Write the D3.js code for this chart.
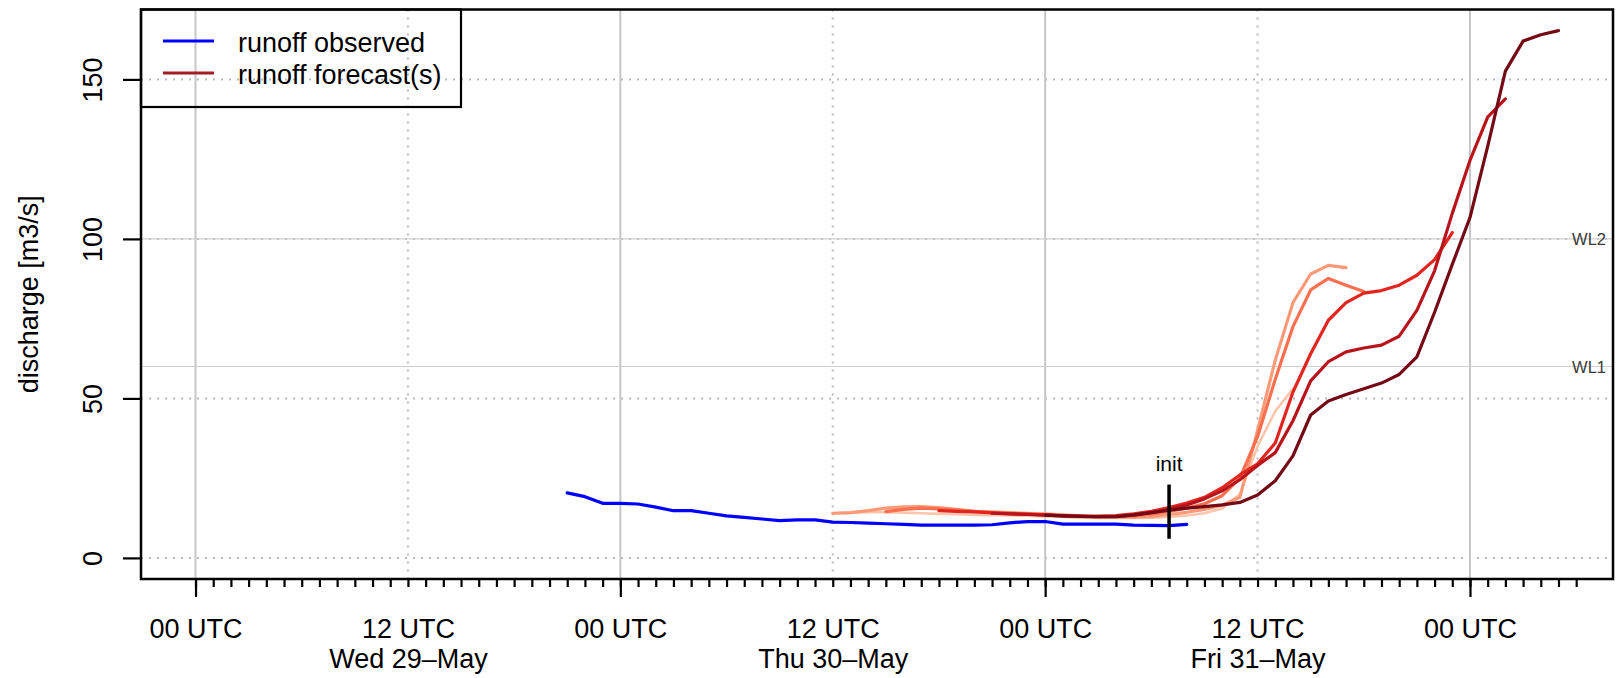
<!DOCTYPE html>
<html>
<head>
<meta charset="utf-8">
<script src="https://cdn.jsdelivr.net/npm/d3@7"></script>
<style>
  html, body { margin: 0; padding: 0; background: #fff; }
  svg { display: block; font-family: "Liberation Sans", Arial, Helvetica, sans-serif; }
</style>
</head>
<body>
<svg id="chart" width="1624" height="678"></svg>
<script>
// ---- data -------------------------------------------------------------
// x limits of the plot (UTC) and y limits (m3/s)
const xLimits = ["2019-05-29T00:00Z", "2019-06-01T05:00Z"];
const yLimits = [0, 165.3];
const yTicks = [0, 50, 100, 150];

// warning levels
const warnLevels = [60, 100];
const warnLabels = ["WL1", "WL2"];

// hourly observed runoff, starting at obsStart
const obsStart = "2019-05-29T21:00Z";
const observed = [20.4, 19.2, 17.1, 17.1, 16.9, 15.9, 14.8, 14.8, 14.0, 13.2,
                  12.7, 12.2, 11.7, 11.9, 11.9, 11.2, 11.1, 10.9, 10.7, 10.5,
                  10.3, 10.3, 10.3, 10.3, 10.4, 11.0, 11.4, 11.4, 10.6, 10.6,
                  10.6, 10.6, 10.3, 10.2, 10.1, 10.5];

// hourly runoff forecasts, oldest first
const forecastStarts = ["2019-05-30T12:00Z", "2019-05-30T12:00Z", "2019-05-30T15:00Z",
                        "2019-05-30T18:00Z", "2019-05-30T21:00Z", "2019-05-31T00:00Z"];
const forecast1 = [14.0, 14.1, 14.3, 14.3, 14.2, 14.0, 13.8,
                   13.7, 13.5, 13.4, 13.3, 13.2, 13.0, 12.8, 12.6, 12.5, 12.5,
                   12.5, 12.6, 12.8, 13.3, 14.0, 15.5, 20.0, 35.0, 46.0, 53.0];
const forecast2 = [14.0, 14.2, 14.8, 15.6, 16.0, 16.1, 15.8, 15.2, 14.6, 14.4,
                   14.2, 14.0, 13.8, 13.5, 13.2, 12.9, 12.8, 12.8, 13.0, 13.6,
                   14.3, 15.2, 16.5, 19.0, 40.0, 62.0, 80.0, 89.0, 91.7, 91.0];
const forecast3 = [14.5, 15.2, 15.6, 15.4, 15.0, 14.6, 14.2, 14.0, 13.7, 13.5,
                   13.2, 13.0, 12.9, 12.9, 13.2, 13.8, 14.6, 15.6, 17.0, 19.5,
                   25.0, 38.0, 56.0, 72.5, 84.0, 87.6, 85.5, 83.5];
const forecast4 = [14.8, 14.6, 14.4, 14.1, 13.9, 13.7, 13.5, 13.3, 13.1, 13.1,
                   13.3, 13.8, 14.6, 15.8, 17.2, 19.0, 22.0, 26.0, 29.5, 36.0,
                   52.0, 64.0, 74.5, 80.0, 83.0, 83.8, 85.5, 88.6, 93.5, 102.0];
const forecast5 = [14.0, 13.8, 13.6, 13.4, 13.2, 13.0, 12.9, 13.0, 13.4, 14.2,
                   15.2, 16.6, 18.5, 21.0, 24.5, 29.0, 33.0, 43.0, 55.5, 61.5,
                   64.6, 65.8, 66.7, 69.5, 77.6, 90.0, 108.0, 124.6, 138.2, 143.9];
const forecast6 = [13.4, 13.2, 13.0, 12.9, 12.9, 13.5, 14.2, 15.0, 15.6, 16.1,
                   16.6, 17.4, 19.7, 24.2, 32.0, 44.8, 49.2, 51.2, 53.0, 54.8,
                   57.5, 63.0, 77.0, 92.0, 106.7, 129.0, 152.6, 162.0, 164.0, 165.3];
const forecasts = [forecast1, forecast2, forecast3, forecast4, forecast5, forecast6];
const forecastColors = ["#FDC6AC", "#FC9A78", "#F8704F", "#E2261F", "#B8141C", "#740A15"];

// initialisation marker
const initTime = "2019-05-31T07:00Z";
const initRange = [6, 23];

const legendItems = ["runoff observed", "runoff forecast(s)"];
const legendColors = ["#0000FF", "#A01E24"];

// ---- layout -----------------------------------------------------------
const box = { left: 141, right: 1613, top: 9.5, bottom: 579 };
const FONT = 27;

const svg = d3.select("#chart");
const parse = d3.isoParse;
const hour = 3600 * 1000;

const x0 = parse(xLimits[0]), x1 = parse(xLimits[1]);
const xExt = 0.04 * (x1 - x0);
const x = d3.scaleUtc()
  .domain([new Date(+x0 - xExt), new Date(+x1 + xExt)])
  .range([box.left, box.right]);

const yExt = 0.04 * (yLimits[1] - yLimits[0]);
const y = d3.scaleLinear()
  .domain([yLimits[0] - yExt, yLimits[1] + yExt])
  .range([box.bottom, box.top]);

const series = (start, vals) => {
  const t0 = +parse(start);
  return vals.map((v, i) => ({ t: new Date(t0 + i * hour), v }));
};

// ---- grid -------------------------------------------------------------
const grid = svg.append("g");
const days = d3.utcDay.range(x0, new Date(+x1 + 1));
const halfDays = d3.utcHour.every(12).range(x0, new Date(+x1 + 1)).filter(d => d.getUTCHours() === 12);

grid.selectAll("line.hgrid").data(yTicks).join("line")
  .attr("x1", box.left).attr("x2", box.right)
  .attr("y1", d => y(d)).attr("y2", d => y(d))
  .attr("stroke", "#B9B9C2").attr("stroke-width", 2).attr("stroke-dasharray", "2,6");

grid.selectAll("line.vdot").data(halfDays).join("line")
  .attr("x1", d => x(d)).attr("x2", d => x(d))
  .attr("y1", box.top).attr("y2", box.bottom)
  .attr("stroke", "#B9B9C2").attr("stroke-width", 2).attr("stroke-dasharray", "2,6");

grid.selectAll("line.vday").data(days).join("line")
  .attr("x1", d => x(d)).attr("x2", d => x(d))
  .attr("y1", box.top).attr("y2", box.bottom)
  .attr("stroke", "#C6C6C9").attr("stroke-width", 2);

// warning levels
grid.selectAll("line.wl").data(warnLevels).join("line")
  .attr("x1", box.left).attr("x2", box.right)
  .attr("y1", d => y(d)).attr("y2", d => y(d))
  .attr("stroke", "#CFCFCF").attr("stroke-width", 1.2);

grid.selectAll("text.wl").data(warnLevels).join("text")
  .attr("x", box.right - 7).attr("y", d => y(d) + 6)
  .attr("text-anchor", "end").attr("font-size", 16.5).attr("fill", "#3a3a3a")
  .text((d, i) => warnLabels[i]);

// ---- lines ------------------------------------------------------------
const line = d3.line().x(d => x(d.t)).y(d => y(d.v));

const lines = svg.append("g").attr("fill", "none")
  .attr("stroke-linejoin", "round").attr("stroke-linecap", "round");

forecasts.forEach((vals, i) => {
  lines.append("path")
    .attr("d", line(series(forecastStarts[i], vals)))
    .attr("stroke", forecastColors[i])
    .attr("stroke-width", i === 0 ? 2.6 : 3.2);
});

lines.append("path")
  .attr("d", line(series(obsStart, observed)))
  .attr("stroke", legendColors[0])
  .attr("stroke-width", 3.2);

// init marker
const xi = x(parse(initTime));
svg.append("line")
  .attr("x1", xi).attr("x2", xi)
  .attr("y1", y(initRange[0])).attr("y2", y(initRange[1]))
  .attr("stroke", "#000").attr("stroke-width", 3.5);
svg.append("text")
  .attr("x", xi).attr("y", y(initRange[1]) - 14)
  .attr("text-anchor", "middle").attr("font-size", 21)
  .text("init");

// ---- axes -------------------------------------------------------------
const yAxis = svg.append("g")
  .attr("transform", `translate(${box.left},0)`)
  .call(d3.axisLeft(y).tickValues(yTicks).tickSize(18).tickFormat(d3.format("d")));
yAxis.select(".domain").remove();
yAxis.selectAll(".tick line").attr("stroke", "#000").attr("stroke-width", 2.2);
yAxis.selectAll(".tick text")
  .attr("x", null).attr("dy", null)
  .attr("text-anchor", "middle")
  .attr("transform", "translate(-39.5,0) rotate(-90)")
  .attr("font-size", FONT).attr("fill", "#000")
  .attr("font-family", "Liberation Sans, Arial, sans-serif");

const hours = d3.utcHour.range(x0, new Date(+x1 + 1.5 * hour));
const xMinor = svg.append("g")
  .attr("transform", `translate(0,${box.bottom})`)
  .call(d3.axisBottom(x).tickValues(hours).tickSize(8).tickFormat(""));
xMinor.select(".domain").remove();
xMinor.selectAll(".tick line").attr("stroke", "#000").attr("stroke-width", 2.2);

const xMajor = svg.append("g")
  .attr("transform", `translate(0,${box.bottom})`)
  .call(d3.axisBottom(x).tickValues(days).tickSize(18).tickFormat(""));
xMajor.select(".domain").remove();
xMajor.selectAll(".tick line").attr("stroke", "#000").attr("stroke-width", 2.2);

const labelTicks = d3.utcHour.every(12).range(x0, new Date(+x1 + 1));
const fmtHour = d3.utcFormat("%H UTC");
const fmtDay = d3.utcFormat("%a %d\u2013%b");
const xLab = svg.append("g")
  .attr("transform", `translate(0,${box.bottom})`)
  .call(d3.axisBottom(x).tickValues(labelTicks).tickSize(0).tickFormat(""));
xLab.select(".domain").remove();
xLab.selectAll(".tick").each(function (d) {
  const t = d3.select(this).append("text")
    .attr("text-anchor", "middle").attr("font-size", FONT).attr("fill", "#000")
    .attr("font-family", "Liberation Sans, Arial, sans-serif");
  t.append("tspan").attr("x", 0).attr("y", 59).text(fmtHour(d));
  if (d.getUTCHours() === 12) t.append("tspan").attr("x", 0).attr("y", 89).text(fmtDay(d));
});

// y axis title
svg.append("text")
  .attr("transform", `translate(37.5,${(box.top + box.bottom) / 2}) rotate(-90)`)
  .attr("text-anchor", "middle").attr("font-size", FONT)
  .text("discharge [m3/s]");

// plot frame
svg.append("rect")
  .attr("x", box.left).attr("y", box.top)
  .attr("width", box.right - box.left).attr("height", box.bottom - box.top)
  .attr("fill", "none").attr("stroke", "#000").attr("stroke-width", 2.5);

// ---- legend -----------------------------------------------------------
const legend = svg.append("g");
legend.append("rect")
  .attr("x", box.left).attr("y", box.top)
  .attr("width", 320).attr("height", 97.5)
  .attr("fill", "none").attr("stroke", "#000").attr("stroke-width", 2.2);
legendItems.forEach((name, i) => {
  const ly = 41 + i * 32;
  legend.append("line")
    .attr("x1", 163).attr("x2", 214).attr("y1", ly).attr("y2", ly)
    .attr("stroke", legendColors[i]).attr("stroke-width", 3.2);
  legend.append("text")
    .attr("x", 238).attr("y", ly + 10.5)
    .attr("font-size", FONT).text(name);
});
</script>
</body>
</html>
